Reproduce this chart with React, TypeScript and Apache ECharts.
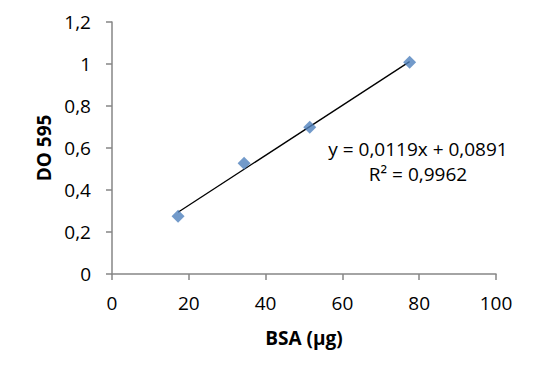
import React, { useEffect, useRef } from "react";
import * as echarts from "echarts";

const bsa = [17.2, 34.4, 51.5, 77.5];
const absorbance = [0.275, 0.527, 0.699, 1.008];
const slope = 0.0119;
const intercept = 0.0891;
const trendX = [17.2, 77.5];
const equationText = "y = 0,0119x + 0,0891";
const r2Text = "R² = 0,9962";
const xTicks = { min: 0, max: 100, interval: 20 };
const yTicks = { min: 0, max: 1.2, interval: 0.2 };

const FONT = "Open Sans";

export default function App() {
  const ref = useRef<HTMLDivElement>(null);
  useEffect(() => {
    if (!ref.current) return;
    const chart = echarts.init(ref.current, null, { renderer: "svg" });
    const axisLine = { show: true, lineStyle: { color: "#868686", width: 1.5 } };
    chart.setOption({
      animation: false,
      backgroundColor: "#fff",
      grid: { left: 112, top: 22, width: 384, height: 252 },
      xAxis: {
        type: "value",
        ...xTicks,
        name: "BSA (µg)",
        nameLocation: "middle",
        nameGap: 54,
        nameTextStyle: { fontFamily: FONT, fontSize: 19, fontWeight: "bold", color: "#000" },
        axisLine,
        axisTick: { show: true, length: 6, lineStyle: { color: "#868686", width: 1.5 } },
        splitLine: { show: false },
        axisLabel: { fontFamily: FONT, fontSize: 19, color: "#000", margin: 19 },
      },
      yAxis: {
        type: "value",
        ...yTicks,
        name: "DO 595",
        nameLocation: "middle",
        nameGap: 59,
        nameTextStyle: { fontFamily: FONT, fontSize: 19, fontWeight: "bold", color: "#000" },
        axisLine,
        axisTick: { show: true, length: 6, lineStyle: { color: "#868686", width: 1.5 } },
        splitLine: { show: false },
        axisLabel: {
          fontFamily: FONT,
          fontSize: 19,
          color: "#000",
          margin: 21,
          formatter: (v: number) => String(Math.round(v * 10) / 10).replace(".", ","),
        },
      },
      series: [
        {
          type: "line",
          data: trendX.map((x) => [x, slope * x + intercept]),
          symbol: "none",
          lineStyle: { color: "#000", width: 1.3 },
          z: 2,
        },
        {
          type: "scatter",
          data: bsa.map((x, i) => [x, absorbance[i]]),
          symbol: "diamond",
          symbolSize: 13,
          itemStyle: { color: "#4F81BD" },
          z: 3,
        },
      ],
      graphic: [
        {
          type: "text",
          x: 418,
          y: 149,
          style: { text: equationText, font: `19px '${FONT}'`, fill: "#000", align: "center", verticalAlign: "middle" },
        },
        {
          type: "text",
          x: 418,
          y: 174,
          style: { text: r2Text, font: `19px '${FONT}'`, fill: "#000", align: "center", verticalAlign: "middle" },
        },
      ],
    });
    return () => chart.dispose();
  }, []);
  return <div ref={ref} style={{ position: "fixed", left: 0, top: 0, width: 551, height: 376 }} />;
}
